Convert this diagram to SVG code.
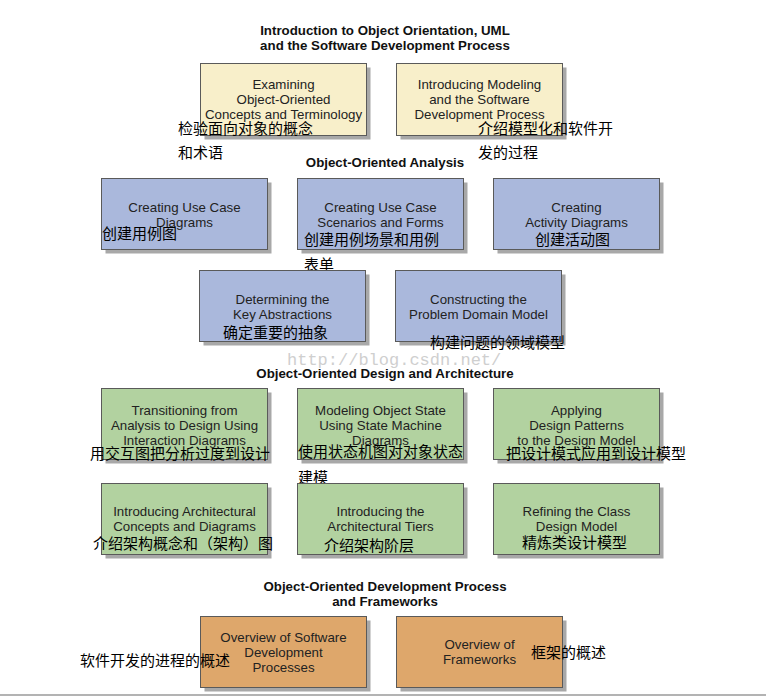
<svg xmlns="http://www.w3.org/2000/svg" width="766" height="696" viewBox="0 0 766 696">
<style>
.sh{fill:#a8a8a8}
.bx{stroke:#5a5a5a;stroke-width:1}
.y{fill:#f8efca}
.b{fill:#aab8dc}
.g{fill:#b2d2a0}
.o{fill:#dea76b}
.t{font-family:"Liberation Sans",Arial,sans-serif;font-size:13.3px;fill:#222;text-anchor:middle}
.h{font-family:"Liberation Sans",Arial,sans-serif;font-size:13.3px;font-weight:bold;fill:#111;text-anchor:middle}
.cn{font-family:"Liberation Sans","Noto Sans CJK SC",sans-serif;font-size:15px;fill:#000}
.wm{font-family:"Liberation Mono","Courier New",monospace;font-size:17px;fill:#cfcfcf}
</style>
<rect width="766" height="696" fill="#fff"/>
<text class="wm" x="287" y="365">http://blog.csdn.net/</text>
<g id="titles">
<text class="h" x="385" y="35">Introduction to Object Orientation, UML</text>
<text class="h" x="385" y="50">and the Software Development Process</text>
<text class="h" x="385" y="167">Object-Oriented Analysis</text>
<text class="h" x="385" y="378">Object-Oriented Design and Architecture</text>
<text class="h" x="385" y="591">Object-Oriented Development Process</text>
<text class="h" x="385" y="606">and Frameworks</text>
</g>
<g id="n1">
<rect class="sh" x="204.5" y="67.5" width="166" height="72"/>
<rect class="bx y" x="200.5" y="63.5" width="166" height="72"/>
<text class="t" x="283.5" y="88.5">Examining</text>
<text class="t" x="283.5" y="103.5">Object-Oriented</text>
<text class="t" x="283.5" y="118.5">Concepts and Terminology</text>
<text class="cn" x="178" y="133.5">检验面向对象的概念</text>
<text class="cn" x="178" y="157.5">和术语</text>
</g>
<g id="n2">
<rect class="sh" x="400.5" y="67.5" width="166" height="72"/>
<rect class="bx y" x="396.5" y="63.5" width="166" height="72"/>
<text class="t" x="479.5" y="88.5">Introducing Modeling</text>
<text class="t" x="479.5" y="103.5">and the Software</text>
<text class="t" x="479.5" y="118.5">Development Process</text>
<text class="cn" x="478" y="133.5">介绍模型化和软件开</text>
<text class="cn" x="478" y="157.5">发的过程</text>
</g>
<g id="n3">
<rect class="sh" x="105.5" y="182.5" width="166" height="71"/>
<rect class="bx b" x="101.5" y="178.5" width="166" height="71"/>
<text class="t" x="184.5" y="211.5">Creating Use Case</text>
<text class="t" x="184.5" y="226.5">Diagrams</text>
<text class="cn" x="102" y="239">创建用例图</text>
</g>
<g id="n4">
<rect class="sh" x="301.5" y="182.5" width="166" height="71"/>
<rect class="bx b" x="297.5" y="178.5" width="166" height="71"/>
<text class="t" x="380.5" y="211.5">Creating Use Case</text>
<text class="t" x="380.5" y="226.5">Scenarios and Forms</text>
<text class="cn" x="304" y="244.5">创建用例场景和用例</text>
<text class="cn" x="304" y="269.5">表单</text>
</g>
<g id="n5">
<rect class="sh" x="497.5" y="182.5" width="166" height="71"/>
<rect class="bx b" x="493.5" y="178.5" width="166" height="71"/>
<text class="t" x="576.5" y="211.5">Creating</text>
<text class="t" x="576.5" y="226.5">Activity Diagrams</text>
<text class="cn" x="535" y="244.5">创建活动图</text>
</g>
<g id="n6">
<rect class="sh" x="203.5" y="274.5" width="166" height="71"/>
<rect class="bx b" x="199.5" y="270.5" width="166" height="71"/>
<text class="t" x="282.5" y="303.5">Determining the</text>
<text class="t" x="282.5" y="318.5">Key Abstractions</text>
<text class="cn" x="223" y="337.5">确定重要的抽象</text>
</g>
<g id="n7">
<rect class="sh" x="399.5" y="274.5" width="166" height="71"/>
<rect class="bx b" x="395.5" y="270.5" width="166" height="71"/>
<text class="t" x="478.5" y="303.5">Constructing the</text>
<text class="t" x="478.5" y="318.5">Problem Domain Model</text>
<text class="cn" x="430" y="347.5">构建问题的领域模型</text>
</g>
<g id="n8">
<rect class="sh" x="105.5" y="392.5" width="166" height="71"/>
<rect class="bx g" x="101.5" y="388.5" width="166" height="71"/>
<text class="t" x="184.5" y="414.5">Transitioning from</text>
<text class="t" x="184.5" y="429.5">Analysis to Design Using</text>
<text class="t" x="184.5" y="444.5">Interaction Diagrams</text>
<text class="cn" x="90" y="458.5">用交互图把分析过度到设计</text>
</g>
<g id="n9">
<rect class="sh" x="301.5" y="392.5" width="166" height="71"/>
<rect class="bx g" x="297.5" y="388.5" width="166" height="71"/>
<text class="t" x="380.5" y="414.5">Modeling Object State</text>
<text class="t" x="380.5" y="429.5">Using State Machine</text>
<text class="t" x="380.5" y="444.5">Diagrams</text>
<text class="cn" x="298" y="456.5">使用状态机图对对象状态</text>
<text class="cn" x="298" y="482.5">建模</text>
</g>
<g id="n10">
<rect class="sh" x="497.5" y="392.5" width="166" height="71"/>
<rect class="bx g" x="493.5" y="388.5" width="166" height="71"/>
<text class="t" x="576.5" y="414.5">Applying</text>
<text class="t" x="576.5" y="429.5">Design Patterns</text>
<text class="t" x="576.5" y="444.5">to the Design Model</text>
<text class="cn" x="506" y="458.5">把设计模式应用到设计模型</text>
</g>
<g id="n11">
<rect class="sh" x="105.5" y="487.5" width="166" height="71"/>
<rect class="bx g" x="101.5" y="483.5" width="166" height="71"/>
<text class="t" x="184.5" y="515.5">Introducing Architectural</text>
<text class="t" x="184.5" y="530.5">Concepts and Diagrams</text>
<text class="cn" x="93" y="548.5">介绍架构概念和（架构）图</text>
</g>
<g id="n12">
<rect class="sh" x="301.5" y="487.5" width="166" height="71"/>
<rect class="bx g" x="297.5" y="483.5" width="166" height="71"/>
<text class="t" x="380.5" y="515.5">Introducing the</text>
<text class="t" x="380.5" y="530.5">Architectural Tiers</text>
<text class="cn" x="324" y="550.5">介绍架构阶层</text>
</g>
<g id="n13">
<rect class="sh" x="497.5" y="487.5" width="166" height="71"/>
<rect class="bx g" x="493.5" y="483.5" width="166" height="71"/>
<text class="t" x="576.5" y="515.5">Refining the Class</text>
<text class="t" x="576.5" y="530.5">Design Model</text>
<text class="cn" x="522" y="547.5">精炼类设计模型</text>
</g>
<g id="n14">
<rect class="sh" x="204.5" y="620.5" width="166" height="71"/>
<rect class="bx o" x="200.5" y="616.5" width="166" height="71"/>
<text class="t" x="283.5" y="641.5">Overview of Software</text>
<text class="t" x="283.5" y="656.5">Development</text>
<text class="t" x="283.5" y="671.5">Processes</text>
<text class="cn" x="80" y="665.5">软件开发的进程的概述</text>
</g>
<g id="n15">
<rect class="sh" x="400.5" y="620.5" width="166" height="71"/>
<rect class="bx o" x="396.5" y="616.5" width="166" height="71"/>
<text class="t" x="479.5" y="648.5">Overview of</text>
<text class="t" x="479.5" y="663.5">Frameworks</text>
<text class="cn" x="531" y="657.5">框架的概述</text>
</g>
<line x1="0" y1="695" x2="766" y2="695" stroke="#9a9a9a" stroke-width="1.5"/>
</svg>
